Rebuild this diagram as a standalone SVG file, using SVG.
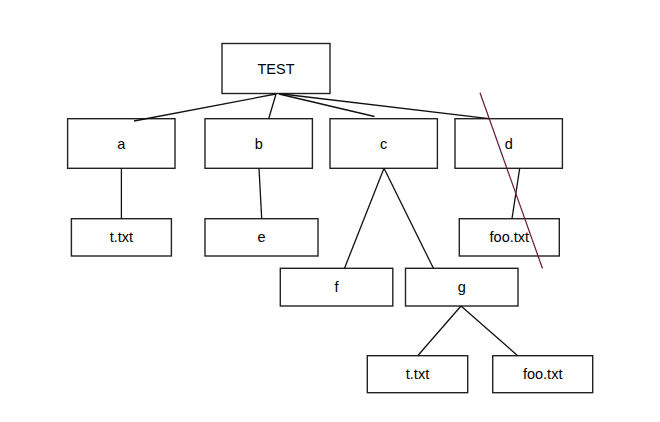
<svg xmlns="http://www.w3.org/2000/svg" width="660" height="422" viewBox="0 0 660 422">
<style>
.box{fill:#fff;stroke:#222;stroke-width:1.4}
.lbl{font-family:"Liberation Sans",Arial,sans-serif;font-size:14.5px;fill:#000;text-anchor:middle}
.con{stroke:#111;stroke-width:1.3;fill:none}
</style>
<rect width="660" height="422" fill="#fff"/>
<g id="n-test"><rect class="box" x="222" y="43.5" width="108" height="50"/><text class="lbl" x="276" y="74">TEST</text></g>
<g id="n-a"><rect class="box" x="67.6" y="118.7" width="107.4" height="49.6"/><text class="lbl" x="121.3" y="148.5">a</text></g>
<g id="n-b"><rect class="box" x="205" y="118.7" width="107.4" height="49.6"/><text class="lbl" x="258.7" y="148.5">b</text></g>
<g id="n-c"><rect class="box" x="330" y="118.7" width="107.4" height="49.6"/><text class="lbl" x="383.7" y="148.5">c</text></g>
<g id="n-d"><rect class="box" x="455" y="118.7" width="107.4" height="49.6"/><text class="lbl" x="508.7" y="148.5">d</text></g>
<g id="n-a-ttxt"><rect class="box" x="71.4" y="218.7" width="100" height="37.3"/><text class="lbl" x="121.4" y="242.3">t.txt</text></g>
<g id="n-e"><rect class="box" x="205" y="218.7" width="113" height="37.3"/><text class="lbl" x="261.5" y="242.3">e</text></g>
<g id="n-d-foo"><rect class="box" x="459.3" y="218.7" width="100" height="37.3"/><text class="lbl" x="509.3" y="242.3">foo.txt</text></g>
<g id="n-f"><rect class="box" x="280.3" y="268.3" width="112.5" height="37.7"/><text class="lbl" x="336.5" y="292">f</text></g>
<g id="n-g"><rect class="box" x="405.5" y="268.3" width="112.5" height="37.7"/><text class="lbl" x="461.7" y="292">g</text></g>
<g id="n-g-ttxt"><rect class="box" x="367.3" y="355.7" width="100.4" height="37"/><text class="lbl" x="417.5" y="379.2">t.txt</text></g>
<g id="n-g-foo"><rect class="box" x="492.7" y="355.7" width="100" height="37"/><text class="lbl" x="542.7" y="379.2">foo.txt</text></g>
<g id="connectors">
<line class="con" x1="276" y1="94" x2="134" y2="121"/>
<line class="con" x1="276" y1="94" x2="268.6" y2="119"/>
<line class="con" x1="279" y1="94" x2="374.5" y2="116.5"/>
<line class="con" x1="282" y1="94" x2="489" y2="118.7"/>
<line class="con" x1="121.4" y1="168.3" x2="121.4" y2="218.7"/>
<line class="con" x1="259" y1="168.3" x2="261.7" y2="218.7"/>
<line class="con" x1="519.7" y1="168.3" x2="512" y2="218.7"/>
<line class="con" x1="384" y1="168.3" x2="344.5" y2="268.3"/>
<line class="con" x1="384" y1="168.3" x2="433.4" y2="268.3"/>
<line class="con" x1="461" y1="306" x2="417.7" y2="355.7"/>
<line class="con" x1="461" y1="306" x2="517.7" y2="355.7"/>
</g>
<line id="strike" x1="480" y1="92.7" x2="542.5" y2="268.5" stroke="#6b1a33" stroke-width="1.2"/>
</svg>
